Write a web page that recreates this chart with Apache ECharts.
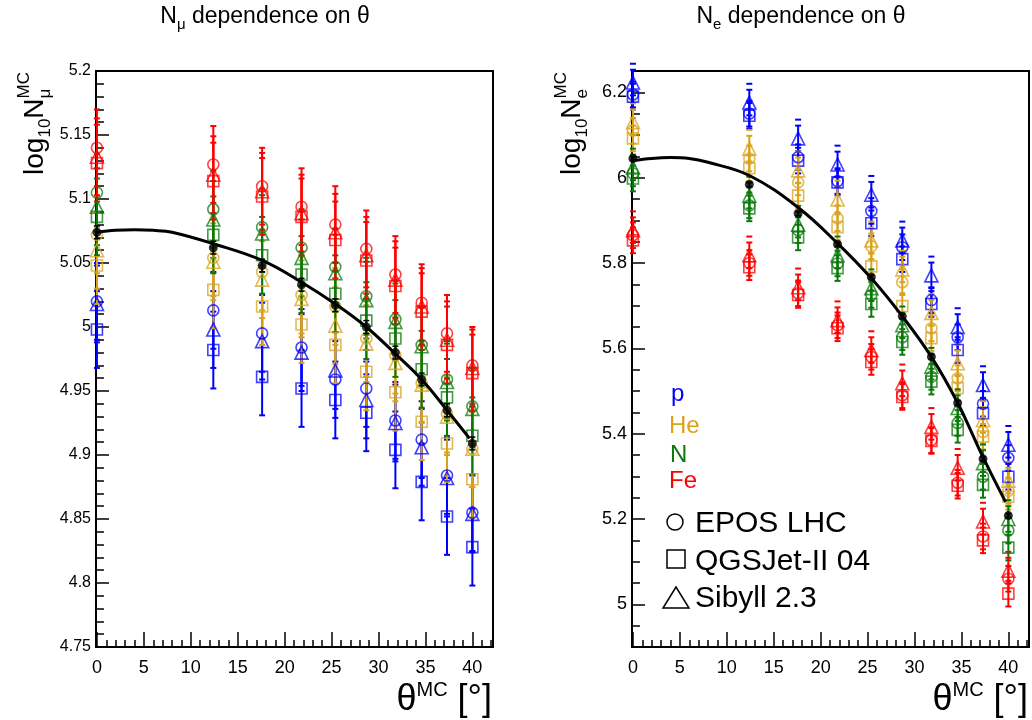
<!DOCTYPE html>
<html><head><meta charset="utf-8">
<script src="https://cdn.jsdelivr.net/npm/echarts@6/dist/echarts.min.js"></script>
<style>html,body{margin:0;padding:0;background:#fff;}#c{width:1032px;height:720px;}</style>
</head><body><div id="c"></div>
<script>
// ---------------- DATA ----------------
const THETA = [0, 12.4, 17.6, 21.8, 25.4, 28.7, 31.8, 34.6, 37.3, 40];

// log10 N_mu (left panel)
const MU_P_EPOS  = [5.020, 5.013, 4.995, 4.984, 4.959, 4.952, 4.927, 4.912, 4.884, 4.855];
const MU_P_QGS   = [4.998, 4.982, 4.961, 4.952, 4.943, 4.933, 4.904, 4.879, 4.852, 4.828];
const MU_P_SIB   = [5.018, 4.998, 4.989, 4.980, 4.966, 4.943, 4.925, 4.906, 4.882, 4.854];
const MU_HE_EPOS = [5.072, 5.054, 5.043, 5.025, 5.016, 4.991, 4.978, 4.956, 4.932, 4.905];
const MU_HE_QGS  = [5.048, 5.029, 5.016, 5.002, 4.986, 4.965, 4.949, 4.926, 4.909, 4.881];
const MU_HE_SIB  = [5.060, 5.051, 5.037, 5.022, 5.001, 4.987, 4.972, 4.955, 4.930, 4.905];
const MU_N_EPOS  = [5.105, 5.092, 5.078, 5.062, 5.047, 5.024, 5.006, 4.986, 4.959, 4.938];
const MU_N_QGS   = [5.086, 5.072, 5.056, 5.041, 5.026, 5.005, 4.991, 4.967, 4.945, 4.915];
const MU_N_SIB   = [5.094, 5.084, 5.073, 5.054, 5.042, 5.021, 5.004, 4.985, 4.957, 4.936];
const MU_FE_EPOS = [5.140, 5.127, 5.110, 5.094, 5.080, 5.061, 5.041, 5.019, 4.995, 4.970];
const MU_FE_QGS  = [5.128, 5.114, 5.102, 5.086, 5.068, 5.052, 5.032, 5.012, 4.986, 4.964];
const MU_FE_SIB  = [5.133, 5.119, 5.106, 5.089, 5.074, 5.056, 5.037, 5.016, 4.990, 4.968];
const MU_MEAN    = [5.074, 5.062, 5.048, 5.033, 5.017, 5.000, 4.980, 4.959, 4.935, 4.909];
const MU_ERR = 0.03;
const MU_MEAN_ERR = 0.005;

// log10 N_e (right panel)
const E_P_EPOS  = [6.195, 6.150, 6.048, 5.992, 5.922, 5.837, 5.713, 5.626, 5.470, 5.343];
const E_P_QGS   = [6.190, 6.145, 6.040, 5.989, 5.893, 5.809, 5.704, 5.596, 5.448, 5.299];
const E_P_SIB   = [6.223, 6.176, 6.092, 6.031, 5.960, 5.853, 5.771, 5.650, 5.514, 5.374];
const E_HE_EPOS = [6.110, 6.045, 5.989, 5.905, 5.839, 5.755, 5.647, 5.530, 5.404, 5.266];
const E_HE_QGS  = [6.092, 6.022, 5.958, 5.884, 5.792, 5.699, 5.624, 5.507, 5.393, 5.252];
const E_HE_SIB  = [6.130, 6.068, 6.017, 5.949, 5.853, 5.785, 5.683, 5.565, 5.432, 5.290];
const E_N_EPOS  = [6.010, 5.935, 5.877, 5.799, 5.725, 5.626, 5.533, 5.425, 5.299, 5.173];
const E_N_QGS   = [5.998, 5.928, 5.860, 5.788, 5.704, 5.615, 5.522, 5.409, 5.280, 5.133];
const E_N_SIB   = [6.024, 5.958, 5.890, 5.818, 5.741, 5.654, 5.557, 5.460, 5.331, 5.200];
const E_FE_EPOS = [5.865, 5.800, 5.729, 5.654, 5.580, 5.490, 5.385, 5.285, 5.159, 5.060];
const E_FE_QGS  = [5.853, 5.790, 5.725, 5.647, 5.568, 5.486, 5.383, 5.278, 5.150, 5.025];
const E_FE_SIB  = [5.877, 5.818, 5.743, 5.666, 5.596, 5.518, 5.416, 5.320, 5.194, 5.079];
const E_MEAN    = [6.045, 5.984, 5.916, 5.844, 5.767, 5.675, 5.580, 5.472, 5.341, 5.208];
const E_ERR = 0.03;
const E_MEAN_ERR = 0.005;
const E_SIB_DASH = 0.044;   // detached upper cap of Sibyll error bars

// fit curves
const FIT_T  = [0, 2, 4, 6, 8, 12.4, 17.6, 21.8, 25.4, 28.7, 31.8, 34.6, 37.3, 39.7];
const MU_FIT = [5.074, 5.0755, 5.076, 5.0755, 5.074, 5.065, 5.052, 5.035, 5.018, 5.000, 4.979, 4.959, 4.935, 4.913];
const E_FIT  = [6.040, 6.045, 6.047, 6.045, 6.036, 6.005, 5.930, 5.846, 5.764, 5.675, 5.580, 5.472, 5.345, 5.240];

// ticks
const X_MAJOR = [0, 5, 10, 15, 20, 25, 30, 35, 40];
const MU_Y_MAJOR = [4.75, 4.8, 4.85, 4.9, 4.95, 5, 5.05, 5.1, 5.15, 5.2];
const E_Y_MAJOR = [5, 5.2, 5.4, 5.6, 5.8, 6, 6.2];
const X_RANGE = [-0.1, 42.2];
const MU_RANGE = [4.75, 5.2];
const E_RANGE = [4.9, 6.25];

// ---------------- STYLE ----------------
const FONT = '"Liberation Sans", Arial, Helvetica, sans-serif';
const COL = {p: '#0000ff', He: '#d9a21a', N: '#0a780a', Fe: '#ff0000'};
const SYM = {EPOS: 'circle', QGS: 'rect', SIB: 'triangle'};
const SYMSIZE = {EPOS: 11, QGS: 11, SIB: 13};

function ticks(a, b, step) { const out = []; const n = Math.round((b - a) / step); for (let i = 0; i <= n; i++) out.push(+(a + i * step).toFixed(4)); return out; }
const X_MINOR = ticks(0, 42, 1);
const MU_Y_MINOR = ticks(4.75, 5.2, 0.01);
const E_Y_MINOR = ticks(4.9, 6.25, 0.05);

const chart = echarts.init(document.getElementById('c'), null, {renderer: 'canvas'});

function xAxes(g) {
  return [
    {gridIndex: g, type: 'value', min: X_RANGE[0], max: X_RANGE[1], position: 'bottom',
     axisLine: {show: true, onZero: false, lineStyle: {color: '#000', width: 2}},
     axisTick: {show: true, inside: true, length: 15, customValues: X_MAJOR, lineStyle: {color: '#000', width: 1.5}},
     axisLabel: {show: true, customValues: X_MAJOR, fontSize: 18, color: '#000', fontFamily: FONT, margin: 12},
     splitLine: {show: false}},
    {gridIndex: g, type: 'value', min: X_RANGE[0], max: X_RANGE[1], position: 'bottom',
     axisLine: {show: false},
     axisTick: {show: true, inside: true, length: 7, customValues: X_MINOR, lineStyle: {color: '#000', width: 1.5}},
     axisLabel: {show: false}, splitLine: {show: false}}
  ];
}
function yAxes(g, range, major, minor, fs) {
  return [
    {gridIndex: g, type: 'value', min: range[0], max: range[1], position: 'left',
     axisLine: {show: true, onZero: false, lineStyle: {color: '#000', width: 2}},
     axisTick: {show: true, inside: true, length: 13, customValues: major, lineStyle: {color: '#000', width: 1.5}},
     axisLabel: {show: true, customValues: major, fontSize: fs, color: '#000', fontFamily: FONT, margin: 5,
                 formatter: v => String(+(+v).toFixed(3))},
     splitLine: {show: false}},
    {gridIndex: g, type: 'value', min: range[0], max: range[1], position: 'left',
     axisLine: {show: false},
     axisTick: {show: true, inside: true, length: 7, customValues: minor, lineStyle: {color: '#000', width: 1.5}},
     axisLabel: {show: false}, splitLine: {show: false}}
  ];
}

function errSeries(xi, yi, vals, err, color, lw, dash, z) {
  return {
    type: 'custom', xAxisIndex: xi, yAxisIndex: yi, silent: true, z: z,
    data: THETA.map((t, i) => [t, vals[i], err]),
    renderItem: function (params, api) {
      const x = api.value(0), y = api.value(1), e = api.value(2);
      const c = api.coord([x, y]), tp = api.coord([x, y + e]), bt = api.coord([x, y - e]);
      const st = {stroke: color, lineWidth: lw};
      const ch = [
        {type: 'line', shape: {x1: c[0], y1: tp[1], x2: c[0], y2: bt[1]}, style: st},
        {type: 'line', shape: {x1: c[0] - 3, y1: tp[1], x2: c[0] + 3, y2: tp[1]}, style: st},
        {type: 'line', shape: {x1: c[0] - 3, y1: bt[1], x2: c[0] + 3, y2: bt[1]}, style: st}
      ];
      if (dash) {
        const d = api.coord([x, y + dash]);
        ch.push({type: 'line', shape: {x1: c[0] - 3, y1: d[1], x2: c[0] + 3, y2: d[1]}, style: st});
      }
      return {type: 'group', children: ch};
    }
  };
}
function markSeries(xi, yi, vals, model, color, z) {
  return {
    type: 'scatter', xAxisIndex: xi, yAxisIndex: yi, silent: true, z: z,
    symbol: SYM[model], symbolSize: SYMSIZE[model],
    itemStyle: {color: 'rgba(0,0,0,0)', borderColor: color, borderWidth: 1.6, opacity: 0.75},
    data: THETA.map((t, i) => [t, vals[i]])
  };
}

const PANELS = [
  {xi: 0, yi: 0, err: MU_ERR, merr: MU_MEAN_ERR, mean: MU_MEAN, fit: MU_FIT, dash: 0,
   sets: [['p', 'EPOS', MU_P_EPOS], ['p', 'QGS', MU_P_QGS], ['p', 'SIB', MU_P_SIB],
          ['He', 'EPOS', MU_HE_EPOS], ['He', 'QGS', MU_HE_QGS], ['He', 'SIB', MU_HE_SIB],
          ['N', 'EPOS', MU_N_EPOS], ['N', 'QGS', MU_N_QGS], ['N', 'SIB', MU_N_SIB],
          ['Fe', 'EPOS', MU_FE_EPOS], ['Fe', 'QGS', MU_FE_QGS], ['Fe', 'SIB', MU_FE_SIB]]},
  {xi: 2, yi: 2, err: E_ERR, merr: E_MEAN_ERR, mean: E_MEAN, fit: E_FIT, dash: E_SIB_DASH,
   sets: [['p', 'EPOS', E_P_EPOS], ['p', 'QGS', E_P_QGS], ['p', 'SIB', E_P_SIB],
          ['He', 'EPOS', E_HE_EPOS], ['He', 'QGS', E_HE_QGS], ['He', 'SIB', E_HE_SIB],
          ['N', 'EPOS', E_N_EPOS], ['N', 'QGS', E_N_QGS], ['N', 'SIB', E_N_SIB],
          ['Fe', 'EPOS', E_FE_EPOS], ['Fe', 'QGS', E_FE_QGS], ['Fe', 'SIB', E_FE_SIB]]}
];

const series = [];
PANELS.forEach(P => {
  P.sets.forEach(s => series.push(errSeries(P.xi, P.yi, s[2], P.err, COL[s[0]], 2, s[1] === 'SIB' ? P.dash : 0, 2)));
  P.sets.forEach(s => series.push(markSeries(P.xi, P.yi, s[2], s[1], COL[s[0]], 3)));
  series.push({type: 'line', xAxisIndex: P.xi, yAxisIndex: P.yi, silent: true, z: 4, smooth: 0.4,
    showSymbol: false, symbol: 'none', lineStyle: {color: '#000', width: 3},
    data: FIT_T.map((t, i) => [t, P.fit[i]])});
  series.push(errSeries(P.xi, P.yi, P.mean, P.merr, '#000', 1.5, 0, 5));
  series.push({type: 'scatter', xAxisIndex: P.xi, yAxisIndex: P.yi, silent: true, z: 6,
    symbol: 'circle', symbolSize: 9, itemStyle: {color: '#000'},
    data: THETA.map((t, i) => [t, P.mean[i]])});
});

// ---------------- TEXT HELPERS ----------------
const mctx = document.createElement('canvas').getContext('2d');
function tw(t, s) { mctx.font = s + 'px ' + FONT; return mctx.measureText(t).width; }
function buildPieces(pieces, color) {
  const out = []; let x = 0;
  pieces.forEach(p => {
    if (p.t !== undefined) {
      out.push({x: x, y: (p.dy || 0), t: p.t, s: p.s, c: p.color || color});
      x += tw(p.t, p.s);
    } else {
      let w = 0;
      if (p.sup) { out.push({x: x, y: p.dySup, t: p.sup, s: p.s, c: color}); w = Math.max(w, tw(p.sup, p.s)); }
      if (p.sub) { out.push({x: x, y: p.dySub, t: p.sub, s: p.s, c: color}); w = Math.max(w, tw(p.sub, p.s)); }
      x += w;
    }
  });
  return {items: out, width: x};
}
function textGroup(pieces, opts) {
  const b = buildPieces(pieces, opts.color || '#000');
  let off = 0;
  if (opts.align === 'center') off = -b.width / 2;
  else if (opts.align === 'right') off = -b.width;
  return {
    type: 'group', x: opts.x, y: opts.y, rotation: opts.rotation || 0, silent: true,
    children: b.items.map(it => ({
      type: 'text', x: it.x + off, y: it.y - 0.32 * it.s,
      style: {text: it.t, font: it.s + 'px ' + FONT, fill: it.c, align: 'left', verticalAlign: 'middle'}
    }))
  };
}

const graphic = [
  textGroup([{t: 'N', s: 23}, {t: 'μ', s: 15, dy: 6}, {t: ' dependence on θ', s: 23}], {x: 265, y: 24, align: 'center'}),
  textGroup([{t: 'N', s: 23}, {t: 'e', s: 15, dy: 6}, {t: ' dependence on θ', s: 23}], {x: 801, y: 24, align: 'center'}),
  textGroup([{t: 'log', s: 28}, {t: '10', s: 17, dy: 7}, {t: 'N', s: 28}, {sup: 'MC', sub: 'μ', s: 17, dySup: -14, dySub: 7}],
            {x: 44, y: 72, align: 'right', rotation: Math.PI / 2}),
  textGroup([{t: 'log', s: 28}, {t: '10', s: 17, dy: 7}, {t: 'N', s: 28}, {sup: 'MC', sub: 'e', s: 17, dySup: -14, dySub: 7}],
            {x: 581, y: 72, align: 'right', rotation: Math.PI / 2}),
  textGroup([{t: 'θ', s: 36}, {sup: 'MC', s: 20, dySup: -15}, {t: ' [°]', s: 36}], {x: 492, y: 712, align: 'right'}),
  textGroup([{t: 'θ', s: 36}, {sup: 'MC', s: 20, dySup: -15}, {t: ' [°]', s: 36}], {x: 1028, y: 712, align: 'right'}),
  // legend (right panel)
  textGroup([{t: 'p', s: 24}], {x: 671, y: 402, color: COL.p}),
  textGroup([{t: 'He', s: 24}], {x: 669, y: 434, color: COL.He}),
  textGroup([{t: 'N', s: 24}], {x: 670, y: 463, color: COL.N}),
  textGroup([{t: 'Fe', s: 24}], {x: 669, y: 489, color: COL.Fe}),
  {type: 'circle', silent: true, shape: {cx: 675, cy: 522, r: 8}, style: {fill: 'none', stroke: '#000', lineWidth: 1.5}},
  {type: 'rect', silent: true, shape: {x: 667, y: 550, width: 18, height: 18}, style: {fill: 'none', stroke: '#000', lineWidth: 1.5}},
  {type: 'polygon', silent: true, shape: {points: [[663, 608], [689, 608], [676, 587]]}, style: {fill: 'none', stroke: '#000', lineWidth: 1.5}},
  textGroup([{t: 'EPOS LHC', s: 30}], {x: 695, y: 533}),
  textGroup([{t: 'QGSJet-II 04', s: 30}], {x: 695, y: 571}),
  textGroup([{t: 'Sibyll 2.3', s: 30}], {x: 695, y: 608})
];

chart.setOption({
  animation: false,
  backgroundColor: '#fff',
  grid: [
    {left: 96, top: 71, width: 397, height: 576, show: true, borderColor: '#000', borderWidth: 2, backgroundColor: 'transparent'},
    {left: 632, top: 71, width: 397, height: 576, show: true, borderColor: '#000', borderWidth: 2, backgroundColor: 'transparent'}
  ],
  xAxis: [...xAxes(0), ...xAxes(1)],
  yAxis: [...yAxes(0, MU_RANGE, MU_Y_MAJOR, MU_Y_MINOR, 16), ...yAxes(1, E_RANGE, E_Y_MAJOR, E_Y_MINOR, 18)],
  series: series,
  graphic: graphic
});
</script></body></html>
